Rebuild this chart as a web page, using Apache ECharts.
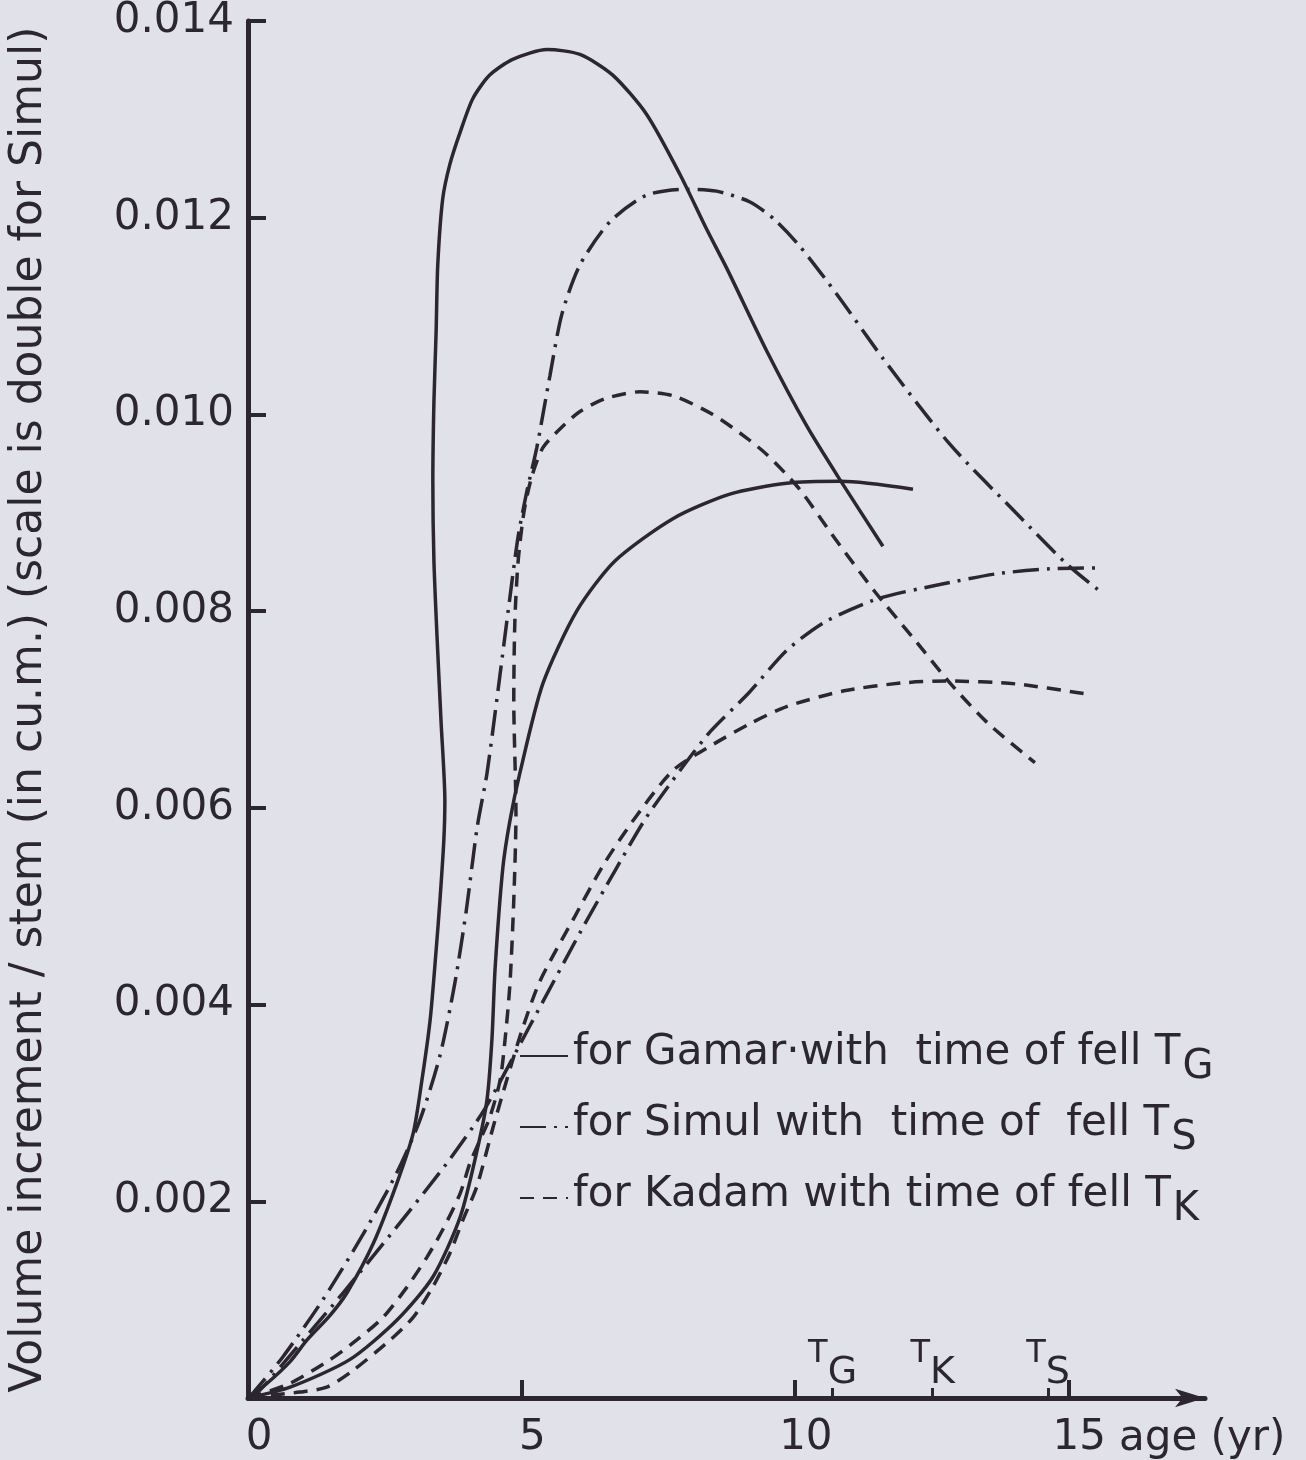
<!DOCTYPE html>
<html>
<head>
<meta charset="utf-8">
<script src="https://cdn.jsdelivr.net/npm/echarts@6/dist/echarts.min.js"></script>
<style>
html,body{margin:0;padding:0;background:#e1e2e9;}
#c{width:1306px;height:1460px;}
</style>
</head>
<body>
<div id="c"></div>
<script>
// ---- data (age in years, volume increment per stem in cu.m.) ----
const xTickValues = [0, 5, 10, 15];
const fellTimes = [10.69, 12.52, 14.63];
const fellLabels = ['G', 'K', 'S'];
const speciesNames = ['Gamar', 'Simul', 'Kadam'];
const legendTexts = ['for Gamar\u00b7with  time of fell T', 'for Simul with  time of  fell T', 'for Kadam with time of fell T'];
const legendSubs = ['G', 'S', 'K'];

const gamarCurveA = [[0,0],[0.35,0.00015],[0.77,0.00037],[1.08,0.00059],[1.50,0.00084],[1.81,0.00107],[2.29,0.00157],[2.72,0.00218],[3.02,0.00269],[3.18,0.00323],[3.33,0.00384],[3.44,0.00455],[3.51,0.00506],[3.58,0.00566],[3.60,0.00607],[3.53,0.00688],[3.46,0.00770],[3.40,0.00851],[3.38,0.00932],[3.40,0.01013],[3.44,0.01084],[3.47,0.01152],[3.56,0.01219],[3.69,0.01254],[3.88,0.01287],[4.11,0.01321],[4.42,0.01345],[4.84,0.01361],[5.47,0.01371],[6.07,0.01366],[6.67,0.01345],[7.29,0.01305],[7.90,0.01244],[8.39,0.01188],[8.76,0.01148],[9.49,0.01064],[10.22,0.00988],[10.82,0.00934],[11.61,0.00866]];
const gamarCurveB = [[0,0],[0.77,0.00011],[1.86,0.00039],[2.72,0.00079],[3.38,0.00123],[3.88,0.00184],[4.19,0.00252],[4.37,0.00303],[4.46,0.00364],[4.52,0.00438],[4.66,0.00539],[4.79,0.00587],[4.97,0.00635],[5.39,0.00726],[6.01,0.00800],[6.71,0.00851],[7.77,0.00894],[8.81,0.00919],[9.85,0.00930],[10.84,0.00932],[12.16,0.00924]];
const simulCurveA = [[0,0],[0.09,0.00005],[0.64,0.00042],[1.37,0.00100],[2.10,0.00166],[2.72,0.00229],[3.14,0.00282],[3.51,0.00348],[3.78,0.00421],[3.99,0.00495],[4.19,0.00580],[4.37,0.00635],[4.61,0.00736],[4.75,0.00797],[4.94,0.00876],[5.10,0.00922],[5.28,0.00966],[5.52,0.01039],[5.74,0.01102],[6.07,0.01152],[6.62,0.01196],[7.29,0.01223],[8.03,0.01229],[8.57,0.01227],[9.18,0.01216],[9.63,0.01198],[10.09,0.01171],[10.77,0.01122],[11.61,0.01057],[12.83,0.00970],[14.06,0.00899],[14.97,0.00848],[15.63,0.00818]];
const simulCurveB = [[0,0],[0.22,0.00008],[1.01,0.00059],[1.74,0.00107],[2.72,0.00174],[3.64,0.00239],[4.33,0.00294],[5.16,0.00379],[6.09,0.00475],[6.71,0.00536],[7.28,0.00590],[7.90,0.00638],[8.46,0.00678],[9.16,0.00717],[9.85,0.00760],[10.55,0.00789],[11.54,0.00813],[12.65,0.00827],[13.69,0.00838],[14.66,0.00843],[15.63,0.00844]];
const kadamCurveA = [[0,0],[0.77,0.00015],[1.50,0.00039],[1.99,0.00059],[2.47,0.00082],[2.91,0.00113],[3.27,0.00143],[3.56,0.00171],[3.88,0.00208],[4.06,0.00239],[4.24,0.00262],[4.42,0.00285],[4.61,0.00323],[4.70,0.00364],[4.79,0.00421],[4.86,0.00506],[4.90,0.00594],[4.86,0.00709],[4.88,0.00790],[4.94,0.00851],[5.05,0.00902],[5.19,0.00937],[5.39,0.00966],[5.70,0.00985],[6.07,0.01003],[6.53,0.01016],[7.17,0.01023],[7.77,0.01019],[8.50,0.01000],[9.12,0.00976],[9.49,0.00959],[10.07,0.00925],[10.77,0.00871],[11.46,0.00820],[12.16,0.00773],[12.85,0.00726],[13.55,0.00685],[14.39,0.00646]];
const kadamCurveB = [[0,0],[0.46,0.00003],[0.95,0.00006],[1.44,0.00011],[1.92,0.00028],[2.60,0.00059],[3.02,0.00082],[3.38,0.00113],[3.69,0.00147],[3.93,0.00181],[4.19,0.00216],[4.48,0.00275],[4.73,0.00323],[5.01,0.00374],[5.34,0.00424],[5.98,0.00490],[6.51,0.00543],[7.08,0.00590],[7.77,0.00638],[8.46,0.00663],[9.16,0.00685],[9.85,0.00703],[10.90,0.00719],[11.96,0.00727],[12.78,0.00729],[14.04,0.00726],[15.30,0.00716]];

// ---- styling ----
const INK = '#2b2631';
const FONT = 'DejaVu Sans';
const dashStyles = { Gamar: 'solid', Simul: [26, 8, 3, 8], Kadam: [14, 9] };

function curve(name, data) {
  return {
    name: name, type: 'line', data: data, xAxisIndex: 0, yAxisIndex: 0,
    symbol: 'none', showSymbol: false, smooth: 0.25, clip: false,
    lineStyle: { color: INK, width: 3.5, type: dashStyles[name] },
    itemStyle: { color: INK },
    emphasis: { disabled: true }
  };
}

const chart = echarts.init(document.getElementById('c'), null, { renderer: 'canvas' });
chart.setOption({
  backgroundColor: '#e1e2e9',
  animation: false,
  textStyle: { fontFamily: FONT, color: INK },
  grid: { left: 248, right: 101, top: 15, bottom: 62, containLabel: false },
  legend: {
    data: speciesNames,
    orient: 'vertical', left: 514, top: 1027,
    itemWidth: 48, itemHeight: 14, itemGap: 15,
    selectedMode: false,
    itemStyle: { opacity: 0, borderWidth: 0 },
    formatter: function (name) {
      const i = speciesNames.indexOf(name);
      return '{a|' + legendTexts[i] + '}{s|' + legendSubs[i] + '}';
    },
    textStyle: {
      color: INK, fontFamily: FONT,
      rich: {
        a: { fontSize: 42, lineHeight: 48, verticalAlign: 'top', color: INK, fontFamily: FONT },
        s: { fontSize: 40, lineHeight: 48, verticalAlign: 'top', padding: [16, 0, 0, 2], color: INK, fontFamily: FONT }
      }
    }
  },
  xAxis: [
    {
      type: 'value', min: 0, max: 17.5, position: 'bottom',
      name: 'age (yr)', nameLocation: 'end', nameGap: -86,
      nameTextStyle: { fontSize: 42, color: INK, fontFamily: FONT, align: 'left', verticalAlign: 'top', padding: [20, 0, 0, 0] },
      axisLine: { show: true, symbol: ['none', 'arrow'], symbolSize: [14, 30], lineStyle: { color: INK, width: 5 } },
      axisTick: { show: true, inside: true, length: 18, customValues: xTickValues, lineStyle: { color: INK, width: 4 } },
      axisLabel: { show: true, customValues: xTickValues, margin: 19, fontSize: 42, color: INK, fontFamily: FONT, padding: [0, 0, 0, 22], formatter: function (v) { return String(v); } },
      splitLine: { show: false }
    },
    {
      type: 'value', min: 0, max: 17.5, position: 'bottom', offset: 0,
      axisLine: { show: false },
      axisTick: { show: true, inside: true, length: 10, customValues: fellTimes, lineStyle: { color: INK, width: 3 } },
      axisLabel: {
        show: true, inside: true, customValues: fellTimes, margin: 26,
        formatter: function (v) {
          const i = fellTimes.indexOf(v);
          return '{t|T}{g|' + (i >= 0 ? fellLabels[i] : '') + '}';
        },
        rich: {
          t: { fontSize: 32, lineHeight: 34, verticalAlign: 'top', color: INK, fontFamily: FONT },
          g: { fontSize: 38, lineHeight: 34, verticalAlign: 'top', padding: [16, 0, 0, 0], color: INK, fontFamily: FONT }
        }
      },
      splitLine: { show: false }
    }
  ],
  yAxis: {
    type: 'value', min: 0, max: 0.014, interval: 0.002,
    name: 'Volume increment / stem (in cu.m.) (scale is double for Simul)',
    nameLocation: 'middle', nameGap: 196,
    nameTextStyle: { fontSize: 44, color: INK, fontFamily: FONT },
    axisLine: { show: true, lineStyle: { color: INK, width: 5 } },
    axisTick: { show: true, inside: true, length: 18, lineStyle: { color: INK, width: 4 } },
    axisLabel: {
      margin: 14, fontSize: 42, color: INK, fontFamily: FONT,
      formatter: function (v) { return v === 0 ? '' : v.toFixed(3); }
    },
    splitLine: { show: false }
  },
  series: [
    curve('Gamar', gamarCurveA),
    curve('Gamar', gamarCurveB),
    curve('Simul', simulCurveA),
    curve('Simul', simulCurveB),
    curve('Kadam', kadamCurveA),
    curve('Kadam', kadamCurveB)
  ]
});
</script>
</body>
</html>
